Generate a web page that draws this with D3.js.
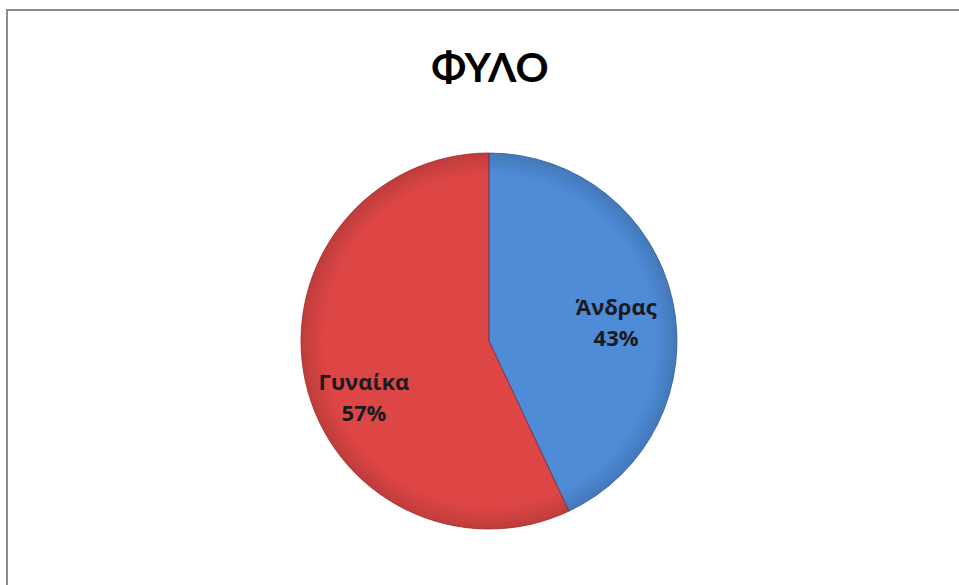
<!DOCTYPE html>
<html>
<head>
<meta charset="utf-8">
<script src="https://cdn.jsdelivr.net/npm/d3@7"></script>
<style>
  html, body { margin: 0; padding: 0; background: #ffffff; }
  svg { display: block; }
</style>
</head>
<body>
<svg id="chart" width="959" height="585"></svg>
<script>
const title = "ΦΥΛΟ";
const categories = ["Άνδρας", "Γυναίκα"];
const values = [43, 57];
const percentLabels = ["43%", "57%"];

const W = 959, H = 585;
const cx = 489, cy = 341, R = 188;

const svg = d3.select("#chart");

// outer chart border (right and bottom run off the picture)
svg.append("rect")
  .attr("x", 7).attr("y", 10)
  .attr("width", W + 20).attr("height", H + 20)
  .attr("fill", "#ffffff")
  .attr("stroke", "#8c8c8c").attr("stroke-width", 2);

svg.append("text")
  .attr("x", 490).attr("y", 82)
  .attr("text-anchor", "middle")
  .attr("font-family", "Lato, 'Open Sans', sans-serif")
  .attr("font-weight", "bold")
  .attr("font-size", 41)
  .attr("fill", "#000")
  .text(title);

const colorTop = ["#4f8cd8", "#dd4645"];
const colorBot = ["#3769b0", "#b33030"];

const defs = svg.append("defs");
categories.forEach((c, i) => {
  const g = defs.append("linearGradient")
    .attr("id", "grad" + i)
    .attr("gradientUnits", "userSpaceOnUse")
    .attr("x1", cx - R * 0.3).attr("y1", cy - R)
    .attr("x2", cx + R * 0.3).attr("y2", cy + R);
  g.append("stop").attr("offset", "0%").attr("stop-color", colorTop[i]);
  g.append("stop").attr("offset", "100%").attr("stop-color", colorBot[i]);
});
const rim = defs.append("radialGradient").attr("id", "rim")
  .attr("gradientUnits", "userSpaceOnUse")
  .attr("cx", 0).attr("cy", 0).attr("r", R);
rim.append("stop").attr("offset", "88%").attr("stop-color", "#000").attr("stop-opacity", 0);
rim.append("stop").attr("offset", "100%").attr("stop-color", "#000").attr("stop-opacity", 0.14);

const pie = d3.pie().sort(null).value(d => d)(values);
const arc = d3.arc().innerRadius(0).outerRadius(R);

const g = svg.append("g").attr("transform", `translate(${cx},${cy})`);

g.selectAll("path.slice")
  .data(pie)
  .join("path")
  .attr("class", "slice")
  .attr("d", arc)
  .attr("fill", (d, i) => `url(#grad${i})`);

g.selectAll("path.rim")
  .data(pie)
  .join("path")
  .attr("class", "rim")
  .attr("d", arc)
  .attr("fill", "url(#rim)")
  .attr("stroke", (d, i) => i === 0 ? "#2f5d9e" : "#9e2a2a")
  .attr("stroke-width", 0.8)
  .attr("stroke-linejoin", "round");

const labelArc = d3.arc().innerRadius(R * 0.66).outerRadius(R * 0.66);
const adjust = [[6, 9], [-4, 30]];

const lab = g.selectAll("g.lab")
  .data(pie)
  .join("g")
  .attr("class", "lab")
  .attr("transform", (d, i) => {
    const c = labelArc.centroid(d);
    return `translate(${c[0] + adjust[i][0]},${c[1] + adjust[i][1]})`;
  });

lab.append("text")
  .attr("text-anchor", "middle")
  .attr("y", -8)
  .attr("font-family", "'Open Sans', sans-serif")
  .attr("font-weight", "bold")
  .attr("font-size", 22)
  .attr("fill", "#1a1a22")
  .text((d, i) => categories[i]);

lab.append("text")
  .attr("text-anchor", "middle")
  .attr("y", 23)
  .attr("font-family", "'Open Sans', sans-serif")
  .attr("font-weight", "bold")
  .attr("font-size", 22)
  .attr("fill", "#1a1a22")
  .text((d, i) => percentLabels[i]);
</script>
</body>
</html>
